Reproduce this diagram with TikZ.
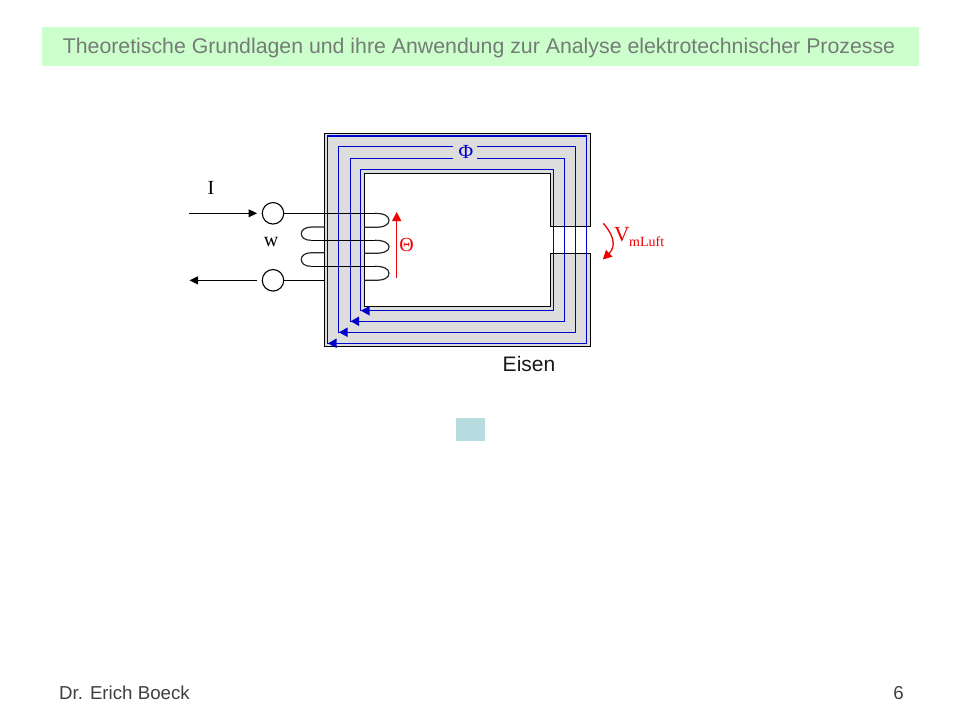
\documentclass[tikz,border=0pt]{standalone}
\usepackage{fontspec}
\setmainfont{Liberation Sans}
\newfontfamily\serifx{Liberation Serif}
\usetikzlibrary{arrows.meta}
\definecolor{bandgreen}{HTML}{CCFFCC}
\definecolor{titlegray}{HTML}{747C76}
\definecolor{coregray}{HTML}{DDDDDD}
\definecolor{fluxblue}{HTML}{0000CC}
\definecolor{tealbox}{HTML}{B8DDE0}
\definecolor{thetared}{HTML}{F00000}
\tikzset{
  coreline/.style={draw=black,line width=1.5pt},
  fluxline/.style={draw=fluxblue,line width=1.4pt},
  fluxtip/.style={fill=fluxblue,draw=none},
  wire/.style={draw=black,line width=1.3pt},
  wireloop/.style={draw=black!85,line width=1.2pt},
  terminal/.style={circle,draw=black,line width=1.1pt,minimum size=21.5pt,inner sep=0pt,fill=white},
  currentarrow/.style={draw=black,line width=1.1pt,-{Triangle[length=8.5pt,width=8pt]}},
  redarrow/.style={draw=thetared,line width=1.3pt,-{Triangle[length=9pt,width=9pt]}},
  serif label/.style={font=\serifx\fontsize{20}{24}\selectfont,inner sep=0pt},
  footer/.style={font=\fontsize{18.7}{22}\selectfont,text=black!75,inner sep=0pt}
}
\begin{document}
\begin{tikzpicture}[x=1pt,y=-1pt]
\useasboundingbox (0,0) rectangle (960,720);
\fill[white] (0,0) rectangle (960,720);
% header
\node[fill=bandgreen,minimum width=877pt,minimum height=39pt,inner sep=0pt] (band) at (480.5,46.5) {};
\node[text=titlegray,font=\fontsize{21.3}{25}\selectfont,inner sep=0pt] (title) at (479,47.5) {Theoretische Grundlagen und ihre Anwendung zur Analyse elektrotechnischer Prozesse};
% core
\path[fill=coregray] (550.7,226.3) -- (590.3,226.3) -- (590.3,133.7) -- (324.7,133.7) -- (324.7,346.3) -- (590.3,346.3) -- (590.3,253.3) -- (550.7,253.3) -- (550.7,306.7) -- (364.3,306.7) -- (364.3,173.3) -- (550.7,173.3) -- cycle;
\path[coreline] (550.7,226.3) -- (590.3,226.3) -- (590.3,133.7) -- (324.7,133.7) -- (324.7,346.3) -- (590.3,346.3) -- (590.3,253.3) -- (550.7,253.3) -- (550.7,306.7) -- (364.3,306.7) -- (364.3,173.3) -- (550.7,173.3) -- cycle;
% flux lines
\draw[fluxline] (327.3,343.3) -- (327.3,136) -- (586.7,136) -- (586.7,343.3) -- cycle;
\draw[fluxline] (453.3,146.3) -- (338.3,146.3) -- (338.3,332.3) -- (575.3,332.3) -- (575.3,146.3) -- (477,146.3);
\draw[fluxline] (453.3,158.3) -- (350.3,158.3) -- (350.3,321.3) -- (564.3,321.3) -- (564.3,158.3) -- (477,158.3);
\draw[fluxline] (360.7,310.7) -- (360.7,169.3) -- (553.3,169.3) -- (553.3,310.7) -- cycle;
\fill[fluxtip] (328,343.3) -- (336.5,338.5) -- (336.5,348) -- cycle;
\fill[fluxtip] (339,332.3) -- (347.5,327.5) -- (347.5,337) -- cycle;
\fill[fluxtip] (350.7,321.3) -- (359,316.5) -- (359,326) -- cycle;
\fill[fluxtip] (361,310.7) -- (369.5,306) -- (369.5,315.5) -- cycle;
\node[text=fluxblue,font=\serifx\fontsize{20}{24}\selectfont,inner sep=0pt] (phi) at (466,151.5) {\symbol{"03A6}};
% coil
\node[terminal] (t1) at (273,213.3) {};
\node[terminal] (t2) at (273,280.3) {};
\draw[wire] (t1.east) -- (375,213.3);
\draw[wireloop] (375,213.3) .. controls (384,213.3) and (389,216) .. (389,220.3) .. controls (389,225) and (384,227.3) .. (375,227.3) -- (364.3,227.3);
\draw[wire] (310.7,240.3) -- (375,240.3);
\draw[wireloop] (375,240.3) .. controls (384,240.3) and (389,243) .. (389,247) .. controls (389,251) and (384,253.3) .. (375,253.3) -- (364.3,253.3);
\draw[wire] (310.7,266.3) -- (375,266.3);
\draw[wireloop] (375,266.3) .. controls (384,266.3) and (389,269) .. (389,273.3) .. controls (389,278) and (384,280.3) .. (375,280.3) -- (364.3,280.3);
\draw[wire] (t2.east) -- (324.7,280.3);
\draw[wireloop] (324.7,227) -- (312,227) .. controls (305,227) and (301.3,230) .. (301.3,233.5) .. controls (301.3,237.5) and (305,240.3) .. (310.7,240.3);
\draw[wireloop] (324.7,252.7) -- (312,252.7) .. controls (305,252.7) and (301.3,255.5) .. (301.3,259.5) .. controls (301.3,263.5) and (305,266.3) .. (310.7,266.3);
% current arrows
\coordinate (inS) at (189,213.3);
\coordinate (inE) at (257,213.3);
\coordinate (outS) at (257,280.4);
\coordinate (outE) at (189.5,280.4);
\draw[currentarrow] (inS) -- (inE);
\draw[currentarrow] (outS) -- (outE);
% theta
\coordinate (thS) at (396.7,278);
\coordinate (thE) at (396.7,212);
\draw[redarrow] (thS) -- (thE);
\node[text=thetared,font=\serifx\fontsize{20}{24}\selectfont,inner sep=0pt] (theta) at (406.5,245) {\symbol{"0398}};
% air gap
\coordinate (vS) at (603.3,223.3);
\coordinate (vE) at (602.7,259.5);
\draw[redarrow] (vS) .. controls (611,232) and (618,245) .. (vE);
\node[text=thetared,anchor=base west,inner sep=0pt,font=\serifx\fontsize{21.5}{24}\selectfont] (v) at (614,241.5) {V};
\node[text=thetared,anchor=base west,inner sep=0pt,font=\serifx\fontsize{14}{17}\selectfont] (vsub) at (629,246) {mLuft};
% labels
\node[serif label] (i) at (211,187.5) {I};
\node[serif label] (w) at (271,242.5) {w};
\node[font=\fontsize{21}{25}\selectfont,inner sep=0pt,text=black!90] (eisen) at (529,363.8) {Eisen};
\node[fill=tealbox,minimum width=29pt,minimum height=23pt,inner sep=0pt] (teal) at (470.5,429.5) {};
\node[footer,anchor=base west] (author) at (59,699.5) {Dr. Erich Boeck};
\node[footer,anchor=base east] (page) at (904,699.5) {6};
\end{tikzpicture}
\end{document}
